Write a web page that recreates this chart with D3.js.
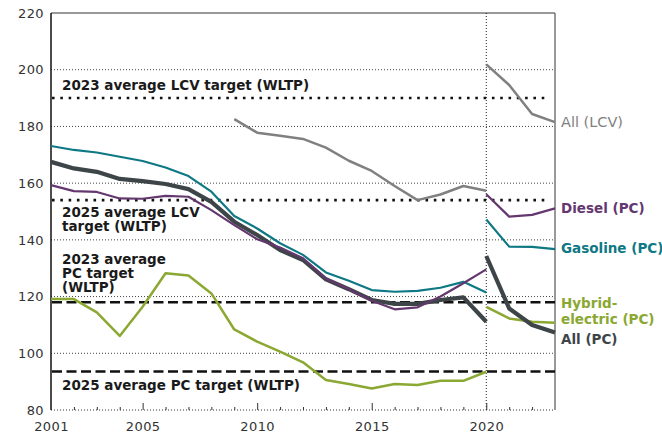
<!DOCTYPE html>
<html>
<head>
<meta charset="utf-8">
<script src="https://cdn.jsdelivr.net/npm/d3@7"></script>
<style>
  body { margin: 0; background: #fff; }
  svg { display: block; font-family: 'DejaVu Sans', sans-serif; }
</style>
</head>
<body>
<svg id="chart" width="662" height="435"></svg>
<script>
'use strict'

// years of the NEDC-era series (2001-2020) and of the WLTP-era series (2020-2023)
var yearsOld = [2001, 2002, 2003, 2004, 2005, 2006, 2007, 2008, 2009, 2010,
  2011, 2012, 2013, 2014, 2015, 2016, 2017, 2018, 2019, 2020];
var yearsNew = [2020, 2021, 2022, 2023];
var yearsLcv = [2009, 2010, 2011, 2012, 2013, 2014, 2015, 2016, 2017, 2018, 2019, 2020];

var gasolineOld = [173.1, 171.7, 170.8, 169.3, 167.8, 165.5, 162.5, 157.0, 148.4, 144.0,
  138.8, 134.7, 128.5, 125.6, 122.3, 121.7, 122.0, 123.1, 125.2, 121.4];
var dieselOld = [159.3, 157.2, 156.9, 154.6, 154.5, 155.5, 155.2, 150.5, 145.2, 140.2,
  137.3, 133.5, 126.4, 122.6, 118.5, 115.5, 116.2, 120.0, 124.7, 129.6];
var hybridOld = [119.1, 119.1, 114.4, 106.1, 116.4, 128.2, 127.4, 121.1, 108.4, 104.1,
  100.6, 96.8, 90.6, 89.2, 87.6, 89.2, 88.8, 90.3, 90.3, 93.5];
var allPcOld = [167.5, 165.2, 164.0, 161.5, 160.7, 159.7, 157.9, 153.4, 146.4, 141.7,
  136.4, 132.9, 126.1, 122.6, 118.8, 117.4, 117.4, 118.8, 119.7, 111.1];
var lcvOld = [182.6, 177.8, 176.7, 175.6, 172.5, 167.9, 164.3, 159.0, 154.0, 156.0, 159.0, 157.3];

var gasolineNew = [147.2, 137.6, 137.5, 136.7];
var dieselNew = [156.1, 148.2, 148.8, 151.1];
var hybridNew = [116.4, 112.3, 111.1, 110.8];
var allPcNew = [134.3, 115.8, 110.0, 107.3];
var lcvNew = [201.9, 194.6, 184.4, 181.5];

// targets
var targetValues = [190, 154, 118, 93.6];
var targetKinds = ['lcv', 'lcv', 'pc', 'pc'];

var yTicks = [80, 100, 120, 140, 160, 180, 200, 220];
var xLabelTicks = [2001, 2005, 2010, 2015, 2020];
var xMajorTicks = [2005, 2010, 2015, 2020];
var xMinorTicks = [2002, 2003, 2004, 2006, 2007, 2008, 2009, 2011, 2012, 2013,
  2014, 2016, 2017, 2018, 2019, 2021, 2022];

var seriesNames = ['All (LCV)', 'Diesel (PC)', 'Gasoline (PC)', 'Hybrid-electric (PC)', 'All (PC)'];
var seriesColors = ['#808080', '#64386f', '#0e7884', '#8aa832', '#3e4548'];

var mLeft = 51, mRight = 555, mTop = 13, mBottom = 410;

var svg = d3.select('#chart');

var x = d3.scaleLinear().domain([2001, 2023]).range([mLeft, mRight]);
var y = d3.scaleLinear().domain([80, 220]).range([mBottom, mTop]);

// gridlines
svg.append('g')
  .selectAll('line')
  .data([100, 120, 140, 160, 180, 200])
  .enter()
  .append('line')
  .attr('x1', mLeft).attr('x2', mRight)
  .attr('y1', function(d){ return y(d); })
  .attr('y2', function(d){ return y(d); })
  .attr('stroke', '#444')
  .attr('stroke-width', 1)
  .attr('stroke-dasharray', '1,2');

// top border
svg.append('line')
  .attr('x1', mLeft).attr('x2', mRight)
  .attr('y1', y(220)).attr('y2', y(220))
  .attr('stroke', '#333').attr('stroke-width', 1);

// bottom border, dotted
svg.append('line')
  .attr('x1', mLeft).attr('x2', mRight)
  .attr('y1', y(80)).attr('y2', y(80))
  .attr('stroke', '#333').attr('stroke-width', 1)
  .attr('stroke-dasharray', '1,2');

// 2020 divider
svg.append('line')
  .attr('x1', x(2020)).attr('x2', x(2020))
  .attr('y1', y(220)).attr('y2', y(80))
  .attr('stroke', '#222').attr('stroke-width', 1)
  .attr('stroke-dasharray', '1,2');

// right border
svg.append('line')
  .attr('x1', mRight).attr('x2', mRight)
  .attr('y1', y(220)).attr('y2', y(80))
  .attr('stroke', '#777').attr('stroke-width', 1.5);

// x axes: minor ticks, major ticks + labels
var xMinor = d3.axisBottom(x).tickValues(xMinorTicks).tickSize(-3).tickFormat('');
var xMajor = d3.axisBottom(x).tickValues(xLabelTicks).tickSize(-7).tickPadding(12)
  .tickFormat(d3.format('d'));

svg.append('g')
  .attr('transform', 'translate(0,' + mBottom + ')')
  .call(xMinor)
  .call(function(g){ g.select('.domain').remove(); })
  .selectAll('line').attr('stroke', '#333');

var gx = svg.append('g')
  .attr('transform', 'translate(0,' + mBottom + ')')
  .call(xMajor)
  .call(function(g){ g.select('.domain').remove(); });
gx.selectAll('line')
  .attr('stroke', '#333')
  .attr('y2', function(d){ return xMajorTicks.indexOf(d) >= 0 ? -7 : 0; });
gx.selectAll('text')
  .attr('fill', '#333')
  .attr('font-family', null)
  .attr('font-size', null)
  .style('font-size', '13px')
  .style('letter-spacing', '0.4px');

// y axis
var gy = svg.append('g')
  .attr('transform', 'translate(' + mLeft + ',0)')
  .call(d3.axisLeft(y).tickValues(yTicks).tickSize(0).tickPadding(7))
  .call(function(g){ g.select('.domain').remove(); });
gy.attr('font-family', null);
gx.attr('font-family', null);
gy.selectAll('text')
  .attr('fill', '#333')
  .style('font-size', '13px')
  .style('letter-spacing', '0.4px');

svg.append('line')
  .attr('x1', mLeft).attr('x2', mLeft)
  .attr('y1', y(220)).attr('y2', y(80))
  .attr('stroke', '#111').attr('stroke-width', 1.5);

// target lines
targetValues.forEach(function(v, i){
  var lcv = targetKinds[i] == 'lcv';
  svg.append('line')
    .attr('x1', mLeft + 1)
    .attr('x2', lcv ? 547 : mRight)
    .attr('y1', y(v)).attr('y2', y(v))
    .attr('stroke', '#111')
    .attr('stroke-width', lcv ? 2.6 : 2.4)
    .attr('stroke-dasharray', lcv ? '2.6,5.7' : '10,4.5');
});

var targetText = [
  { lines: ['2023 average LCV target (WLTP)'], x: 62, y: 90 },
  { lines: ['2025 average LCV', 'target (WLTP)'], x: 62, y: 217 },
  { lines: ['2023 average', 'PC target', '(WLTP)'], x: 62, y: 264 },
  { lines: ['2025 average PC target (WLTP)'], x: 62, y: 390 }
];
targetText.forEach(function(t){
  var txt = svg.append('text')
    .attr('x', t.x).attr('y', t.y)
    .attr('fill', '#1a1a1a')
    .style('font-size', '13.5px')
    .style('font-weight', 700);
  t.lines.forEach(function(l, j){
    txt.append('tspan').attr('x', t.x).attr('dy', j == 0 ? 0 : 13.8).text(l);
  });
});

// series lines
var line = d3.line()
  .x(function(d){ return x(d[0]); })
  .y(function(d){ return y(d[1]); });

function drawSeries(years, values, color, width){
  svg.append('path')
    .datum(d3.zip(years, values))
    .attr('d', line)
    .attr('fill', 'none')
    .attr('stroke', color)
    .attr('stroke-width', width)
    .attr('stroke-linejoin', 'round');
}

drawSeries(yearsLcv, lcvOld, seriesColors[0], 2.5);
drawSeries(yearsNew, lcvNew, seriesColors[0], 2.5);
drawSeries(yearsOld, hybridOld, seriesColors[3], 2.5);
drawSeries(yearsNew, hybridNew, seriesColors[3], 2.5);
drawSeries(yearsOld, gasolineOld, seriesColors[2], 2.2);
drawSeries(yearsNew, gasolineNew, seriesColors[2], 2.2);
drawSeries(yearsOld, allPcOld, seriesColors[4], 4.2);
drawSeries(yearsNew, allPcNew, seriesColors[4], 4.2);
drawSeries(yearsOld, dieselOld, seriesColors[1], 2.2);
drawSeries(yearsNew, dieselNew, seriesColors[1], 2.2);

// end labels
var endLabels = [
  { lines: ['All (LCV)'], y: 127, w: 400, s: 14.5 },
  { lines: ['Diesel (PC)'], y: 213, w: 700, s: 13.5 },
  { lines: ['Gasoline (PC)'], y: 253, w: 700, s: 13.5 },
  { lines: ['Hybrid-', 'electric (PC)'], y: 308, w: 700, s: 13.5 },
  { lines: ['All (PC)'], y: 344, w: 700, s: 13.5 }
];
endLabels.forEach(function(l, i){
  var txt = svg.append('text')
    .attr('x', 561).attr('y', l.y)
    .attr('fill', seriesColors[i])
    .style('font-size', l.s + 'px')
    .style('font-weight', l.w);
  l.lines.forEach(function(s, j){
    txt.append('tspan').attr('x', 561).attr('dy', j == 0 ? 0 : 16).text(s);
  });
});
</script>
</body>
</html>
